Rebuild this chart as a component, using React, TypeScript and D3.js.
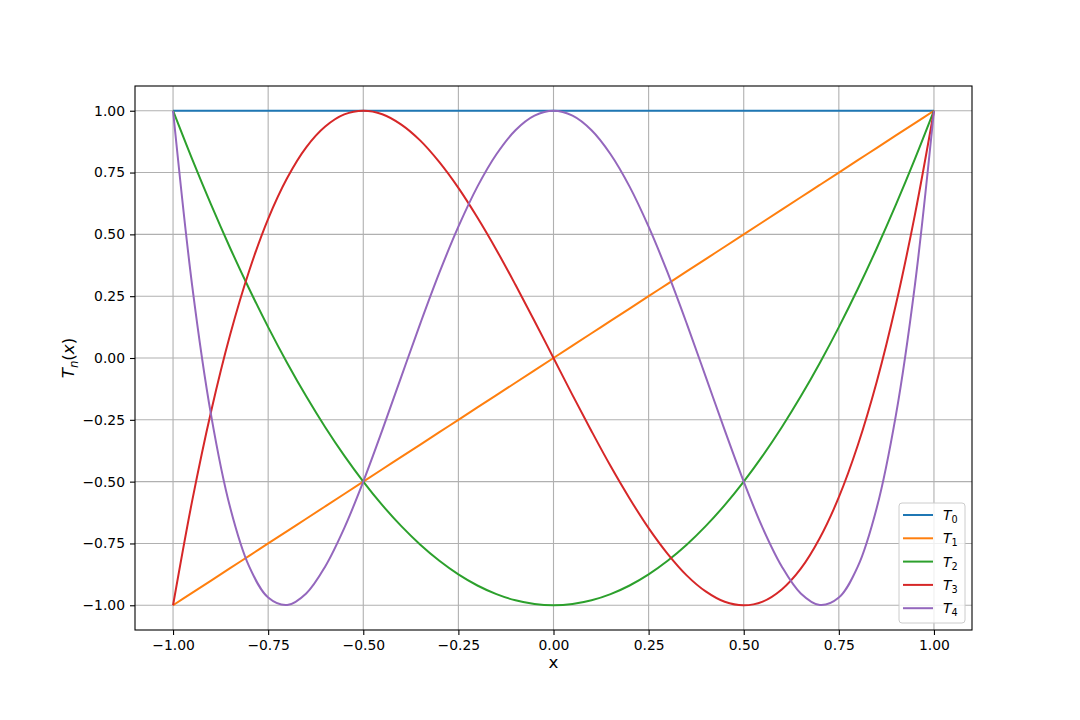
import React, { useEffect, useRef } from 'react'
import * as d3 from 'd3'

// sample positions read along the x axis
const xs = [
  -1, -0.95, -0.9, -0.85, -0.8, -0.75, -0.7, -0.65, -0.6, -0.55, -0.5, -0.45, -0.4, -0.35, -0.3, -0.25, -0.2,
  -0.15, -0.1, -0.05, 0, 0.05, 0.1, 0.15, 0.2, 0.25, 0.3, 0.35, 0.4, 0.45, 0.5, 0.55, 0.6, 0.65, 0.7, 0.75, 0.8,
  0.85, 0.9, 0.95, 1,
]

const t0 = [
  1, 1, 1, 1, 1, 1, 1, 1, 1, 1, 1, 1, 1, 1, 1, 1, 1, 1, 1, 1, 1, 1, 1, 1, 1, 1, 1, 1, 1, 1, 1, 1, 1, 1, 1, 1, 1,
  1, 1, 1, 1,
]
const t1 = [
  -1, -0.95, -0.9, -0.85, -0.8, -0.75, -0.7, -0.65, -0.6, -0.55, -0.5, -0.45, -0.4, -0.35, -0.3, -0.25, -0.2,
  -0.15, -0.1, -0.05, 0, 0.05, 0.1, 0.15, 0.2, 0.25, 0.3, 0.35, 0.4, 0.45, 0.5, 0.55, 0.6, 0.65, 0.7, 0.75, 0.8,
  0.85, 0.9, 0.95, 1,
]
const t2 = [
  1, 0.805, 0.62, 0.445, 0.28, 0.125, -0.02, -0.155, -0.28, -0.395, -0.5, -0.595, -0.68, -0.755, -0.82, -0.875,
  -0.92, -0.955, -0.98, -0.995, -1, -0.995, -0.98, -0.955, -0.92, -0.875, -0.82, -0.755, -0.68, -0.595, -0.5,
  -0.395, -0.28, -0.155, -0.02, 0.125, 0.28, 0.445, 0.62, 0.805, 1,
]
const t3 = [
  -1, -0.58, -0.216, 0.094, 0.352, 0.563, 0.728, 0.852, 0.936, 0.985, 1, 0.986, 0.944, 0.879, 0.792, 0.688, 0.568,
  0.437, 0.296, 0.15, 0, -0.15, -0.296, -0.437, -0.568, -0.688, -0.792, -0.879, -0.944, -0.986, -1, -0.985,
  -0.936, -0.852, -0.728, -0.563, -0.352, -0.094, 0.216, 0.58, 1,
]
const t4 = [
  1, 0.296, -0.231, -0.604, -0.843, -0.969, -0.999, -0.952, -0.843, -0.688, -0.5, -0.292, -0.075, 0.14, 0.345,
  0.531, 0.693, 0.824, 0.921, 0.98, 1, 0.98, 0.921, 0.824, 0.693, 0.531, 0.345, 0.14, -0.075, -0.292, -0.5,
  -0.688, -0.843, -0.952, -0.999, -0.969, -0.843, -0.604, -0.231, 0.296, 1,
]

const seriesNames = ['0', '1', '2', '3', '4']
const seriesValues = [t0, t1, t2, t3, t4]
const colors = ['#1f77b4', '#ff7f0e', '#2ca02c', '#d62728', '#9467bd']

const xTicks = [-1, -0.75, -0.5, -0.25, 0, 0.25, 0.5, 0.75, 1]
const yTicks = [-1, -0.75, -0.5, -0.25, 0, 0.25, 0.5, 0.75, 1]

const WIDTH = 1080
const HEIGHT = 720
const M = { left: 135, right: 972, top: 86, bottom: 630 }
const FONT = 'DejaVu Sans, sans-serif'

export default function App(): JSX.Element {
  const svgRef = useRef<SVGSVGElement | null>(null)

  useEffect(() => {
    const svg = d3.select(svgRef.current)
    svg.selectAll('*').remove()

    const x = d3.scaleLinear().domain([-1.1, 1.1]).range([M.left, M.right])
    const y = d3.scaleLinear().domain([-1.1, 1.1]).range([M.bottom, M.top])

    // grid
    const grid = svg.append('g')
    grid
      .selectAll('line.gx')
      .data(xTicks)
      .join('line')
      .attr('x1', (d) => x(d))
      .attr('x2', (d) => x(d))
      .attr('y1', M.top)
      .attr('y2', M.bottom)
      .attr('stroke', '#b0b0b0')
      .attr('stroke-width', 1.1)
    grid
      .selectAll('line.gy')
      .data(yTicks)
      .join('line')
      .attr('y1', (d) => y(d))
      .attr('y2', (d) => y(d))
      .attr('x1', M.left)
      .attr('x2', M.right)
      .attr('stroke', '#b0b0b0')
      .attr('stroke-width', 1.1)

    // lines
    const lineFn = d3
      .line<number>()
      .x((_d, i) => x(xs[i]))
      .y((d) => y(d))
      .curve(d3.curveCatmullRom.alpha(0.5))

    svg
      .append('g')
      .selectAll('path')
      .data(seriesValues)
      .join('path')
      .attr('d', (d) => lineFn(d))
      .attr('fill', 'none')
      .attr('stroke', (_d, i) => colors[i])
      .attr('stroke-width', 2)

    // axes
    const fmt = (d: d3.NumberValue) => d3.format('.2f')(d as number).replace('-', '\u2212')
    const xAxis = svg
      .append('g')
      .attr('transform', `translate(0,${M.bottom})`)
      .call(d3.axisBottom(x).tickValues(xTicks).tickFormat(fmt).tickSizeInner(5).tickSizeOuter(0).tickPadding(5))
    const yAxis = svg
      .append('g')
      .attr('transform', `translate(${M.left},0)`)
      .call(d3.axisLeft(y).tickValues(yTicks).tickFormat(fmt).tickSizeInner(5).tickSizeOuter(0).tickPadding(5))
    ;[xAxis, yAxis].forEach((a) => {
      a.selectAll('text').attr('font-family', FONT).attr('font-size', 13.9).attr('fill', '#000')
      a.selectAll('line').attr('stroke', '#000').attr('stroke-width', 1.1)
      a.select('.domain').remove()
    })

    // frame
    svg
      .append('rect')
      .attr('x', M.left)
      .attr('y', M.top)
      .attr('width', M.right - M.left)
      .attr('height', M.bottom - M.top)
      .attr('fill', 'none')
      .attr('stroke', '#000')
      .attr('stroke-width', 1.1)

    // axis labels
    svg
      .append('text')
      .attr('x', (M.left + M.right) / 2)
      .attr('y', 668)
      .attr('text-anchor', 'middle')
      .attr('font-family', FONT)
      .attr('font-size', 16.7)
      .text('x')

    const yl = svg
      .append('text')
      .attr('transform', `translate(74,${(M.top + M.bottom) / 2}) rotate(-90)`)
      .attr('text-anchor', 'middle')
      .attr('font-family', FONT)
      .attr('font-size', 16.7)
    yl.append('tspan').attr('font-style', 'italic').text('T')
    yl.append('tspan').attr('font-style', 'italic').attr('font-size', 11.7).attr('dy', 4).text('n')
    yl.append('tspan').attr('dy', -4).text('(')
    yl.append('tspan').attr('font-style', 'italic').text('x')
    yl.append('tspan').text(')')

    // legend
    const lg = svg.append('g').attr('transform', 'translate(899,503)')
    lg.append('rect')
      .attr('width', 66)
      .attr('height', 120)
      .attr('rx', 3)
      .attr('fill', 'rgba(255,255,255,0.8)')
      .attr('stroke', '#cccccc')
      .attr('stroke-width', 1)
    const items = lg
      .selectAll('g.item')
      .data(seriesNames)
      .join('g')
      .attr('transform', (_d, i) => `translate(0,${12 + i * 23.3})`)
    items
      .append('line')
      .attr('x1', 4)
      .attr('x2', 34)
      .attr('stroke', (_d, i) => colors[i])
      .attr('stroke-width', 2)
    const lt = items
      .append('text')
      .attr('x', 44)
      .attr('y', 5)
      .attr('font-family', FONT)
      .attr('font-size', 13.9)
    lt.append('tspan').attr('font-style', 'italic').text('T')
    lt.append('tspan')
      .attr('font-size', 9.7)
      .attr('dy', 3)
      .text((d) => d)
  }, [])

  return (
    <svg
      ref={svgRef}
      width={WIDTH}
      height={HEIGHT}
      style={{ display: 'block', margin: -8, background: '#fff' }}
      xmlns="http://www.w3.org/2000/svg"
    />
  )
}
